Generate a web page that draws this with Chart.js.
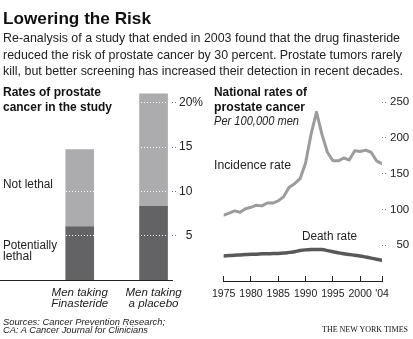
<!doctype html>
<html lang="en">
  <head>
    <meta charset="utf-8">
    <title>Lowering the Risk</title>
    <style>
      * {
        margin: 0;
        padding: 0;
      }
      body {
        width: 413px;
        height: 339px;
        position: relative;
        overflow: hidden;
        background: #fff;
        color: #222;
        font-family: "Liberation Sans", Arial, sans-serif;
      }
      canvas {
        position: absolute;
        top: 0;
      }
      #barChart { left: 0; }
      #lineChart { left: 200px; }
      .t {
        position: absolute;
        white-space: nowrap;
        line-height: 1;
        transform-origin: 0 0;
        font-size: 12.5px;
      }
      .head { font-weight: bold; font-size: 17px; color: #111; }
      .sub { font-size: 13px; }
      .bt { font-weight: bold; font-size: 12px; color: #111; }
      .it { font-style: italic; }
      .src { font-style: italic; font-size: 9.5px; }
      .nyt { font-family: "Liberation Serif", "DejaVu Serif", serif; font-size: 8.5px; color: #111; }
    </style>
  </head>
  <body>
    <canvas id="barChart" width="205" height="339"></canvas>
    <canvas id="lineChart" width="213" height="339"></canvas>

    <div class="t head" data-x="3" data-b="24" data-w="148">Lowering the Risk</div>
    <div class="t sub" data-x="3" data-b="42.5" data-w="397">Re-analysis of a study that ended in 2003 found that the drug finasteride</div>
    <div class="t sub" data-x="3" data-b="59" data-w="399">reduced the risk of prostate cancer by 30 percent. Prostate tumors rarely</div>
    <div class="t sub" data-x="3" data-b="75.5" data-w="400">kill, but better screening has increased their detection in recent decades.</div>

    <div class="t bt" data-x="3" data-b="96" data-w="98">Rates of prostate</div>
    <div class="t bt" data-x="3" data-b="110.7" data-w="109">cancer in the study</div>
    <div class="t bt" data-x="214" data-b="96" data-w="93">National rates of</div>
    <div class="t bt" data-x="214" data-b="110.7" data-w="91">prostate cancer</div>
    <div class="t it" data-x="214" data-b="125" data-w="85" style="font-size:12px">Per 100,000 men</div>

    <div class="t" data-x="3" data-b="189" data-w="50">Not lethal</div>
    <div class="t" data-x="3" data-b="250" data-w="54">Potentially</div>
    <div class="t" data-x="3" data-b="261" data-w="29">lethal</div>
    <div class="t" data-x="214" data-b="170" data-w="77">Incidence rate</div>
    <div class="t" data-x="302" data-b="241" data-w="55">Death rate</div>

    <div class="t src" data-x="3" data-b="325" data-w="162">Sources: Cancer Prevention Research;</div>
    <div class="t src" data-x="3" data-b="332.7" data-w="145">CA: A Cancer Journal for Clinicians</div>
    <div class="t nyt" data-x="322" data-b="332.3" data-w="86">THE NEW YORK TIMES</div>

    <script src="https://cdn.jsdelivr.net/npm/chart.js@4.4.1/dist/chart.umd.min.js"></script>
    <script>
    // study bars
    const groups = [['Men taking', 'Finasteride'], ['Men taking', 'a placebo']];
    const lethal = [6.0, 8.3];
    const notLethal = [8.7, 12.7];
    const pctTicks = [5, 10, 15, 20];

    // national rates per 100,000 men
    const years = [1975, 1976, 1977, 1978, 1979, 1980, 1981, 1982, 1983, 1984,
                   1985, 1986, 1987, 1988, 1989, 1990, 1991, 1992, 1993, 1994,
                   1995, 1996, 1997, 1998, 1999, 2000, 2001, 2002, 2003, 2004];
    const incidence = [92, 95, 98, 96, 101, 103, 106, 105, 109, 109,
                       112, 118, 131, 136, 143, 165, 205, 236, 205, 180,
                       168, 168, 172, 169, 182, 181, 183, 180, 168, 164];
    const deaths = [35, 35.5, 36, 36.5, 37, 37.5, 37.5, 38, 38, 38.5,
                    38.5, 39, 40, 41, 42.5, 43.5, 44, 44, 44, 42.5,
                    41, 39.5, 38, 37, 36, 35, 33.5, 32, 30.5, 29];
    const yearTicks = [1975, 1980, 1985, 1990, 1995, 2000, 2004];
    const rateTicks = [50, 100, 150, 200, 250];

    const LIGHT = '#acacae';
    const DARK = '#636365';

    Chart.defaults.font.family = '"Liberation Sans", Arial, sans-serif';
    Chart.defaults.color = '#222';

    // place the text blocks on their baselines and squeeze to the measured widths
    document.querySelectorAll('.t').forEach(el => {
      const fs = parseFloat(getComputedStyle(el).fontSize);
      el.style.left = el.dataset.x + 'px';
      el.style.top = (el.dataset.b - 0.8465 * fs) + 'px';
      const w = el.getBoundingClientRect().width;
      el.style.transform = 'scaleX(' + (el.dataset.w / w) + ')';
    });

    // pad short numbers with a figure space so digits line up
    const pad3 = (v) => (v < 100 ? '\u2007' : '') + v;

    const barChart = new Chart(document.getElementById('barChart'), {
      type: 'bar',
      data: {
        datasets: [{
          label: 'Potentially lethal',
          data: lethal.map((v, i) => ({x: i + 1, y: v})),
          backgroundColor: DARK,
          barThickness: 28
        }, {
          label: 'Not lethal',
          data: notLethal.map((v, i) => ({x: i + 1, y: v})),
          backgroundColor: LIGHT,
          barThickness: 28
        }]
      },
      options: {
        responsive: false,
        animation: false,
        layout: { padding: { top: 85, bottom: 29, left: 0, right: 0 } },
        plugins: { legend: { display: false }, tooltip: { enabled: false } },
        scales: {
          x: {
            type: 'linear',
            stacked: true,
            offset: false,
            min: -0.08,
            max: 2.25,
            afterBuildTicks: (axis) => { axis.ticks = groups.map((g, i) => ({value: i + 1})); },
            afterFit: (axis) => {
              // labels sit well inside the axis, no edge padding needed
              axis.height = 30;
              axis.paddingLeft = 0;
              axis.paddingRight = 0;
            },
            border: { display: true, color: '#222', width: 1 },
            grid: { offset: false, drawOnChartArea: false, drawTicks: false },
            ticks: {
              padding: 7,
              maxRotation: 0,
              autoSkip: false,
              font: { size: 11.5, style: 'italic', lineHeight: 1 },
              callback: (v) => groups[v - 1]
            }
          },
          y: {
            position: 'right',
            stacked: true,
            min: 0,
            max: 22,
            afterBuildTicks: (axis) => { axis.ticks = pctTicks.map(v => ({value: v})); },
            afterFit: (axis) => { axis.width = 33; },
            // white dotted grid drawn on top of the bars
            border: { display: false, dash: [1, 2] },
            grid: {
              z: 1,
              color: '#fff',
              lineWidth: 1,
              tickColor: '#777',
              tickLength: 6,
              tickBorderDash: [1, 2]
            },
            ticks: {
              padding: 1,
              font: { size: 12 },
              callback: (v) => v === 20 ? '20%' : (v < 10 ? '\u2007' + v : '' + v)
            }
          }
        }
      }
    });

    const lineChart = new Chart(document.getElementById('lineChart'), {
      type: 'line',
      data: {
        datasets: [{
          label: 'Incidence rate',
          data: years.map((y, i) => ({x: y, y: incidence[i]})),
          borderColor: '#9c9c9e',
          borderWidth: 3,
          pointRadius: 0,
          tension: 0,
          borderJoinStyle: 'round',
          borderCapStyle: 'round'
        }, {
          label: 'Death rate',
          data: years.map((y, i) => ({x: y, y: deaths[i]})),
          borderColor: '#58585a',
          borderWidth: 3.5,
          pointRadius: 0,
          tension: 0.4,
          borderCapStyle: 'round'
        }]
      },
      options: {
        responsive: false,
        animation: false,
        layout: { padding: { top: 95, bottom: 33, left: 14, right: 0 } },
        plugins: { legend: { display: false }, tooltip: { enabled: false } },
        scales: {
          x: {
            type: 'linear',
            min: 1975,
            max: 2004,
            afterBuildTicks: (axis) => { axis.ticks = yearTicks.map(v => ({value: v})); },
            afterFit: (axis) => { axis.height = 25; },
            border: { display: true, color: '#222', width: 1 },
            grid: { drawOnChartArea: false, tickLength: -5, tickColor: '#222' },
            ticks: {
              padding: 12,
              maxRotation: 0,
              autoSkip: false,
              font: { size: 10.5 },
              callback: (v) => v === 2004 ? "'04" : '' + v
            }
          },
          y: {
            position: 'right',
            min: 0,
            max: 260,
            afterBuildTicks: (axis) => { axis.ticks = rateTicks.map(v => ({value: v})); },
            afterFit: (axis) => { axis.width = 31; },
            border: { display: false },
            grid: {
              drawOnChartArea: false,
              tickColor: '#777',
              tickLength: 6,
              tickBorderDash: [1, 2]
            },
            ticks: {
              padding: 2,
              font: { size: 11.5 },
              callback: pad3
            }
          }
        }
      }
    });
    </script>
  </body>
</html>
